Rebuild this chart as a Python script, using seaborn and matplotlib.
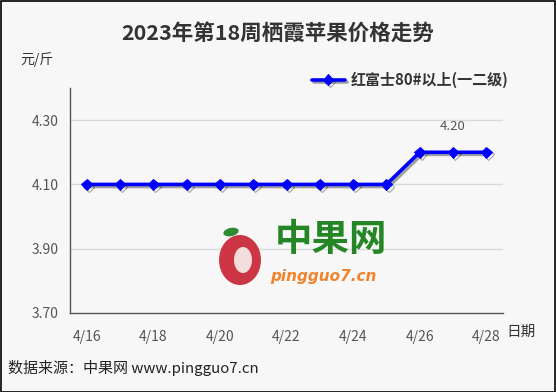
import matplotlib
matplotlib.use("Agg")
import matplotlib.pyplot as plt
import matplotlib.patheffects as pe
from matplotlib.patches import Rectangle, Ellipse
import seaborn as sns
import pandas as pd

dates = ["4/16", "4/17", "4/18", "4/19", "4/20", "4/21", "4/22",
         "4/23", "4/24", "4/25", "4/26", "4/27", "4/28"]
prices = [4.10, 4.10, 4.10, 4.10, 4.10, 4.10, 4.10,
          4.10, 4.10, 4.10, 4.20, 4.20, 4.20]
series_name = "红富士80#以上(一二级)"
y_ticks = [3.70, 3.90, 4.10, 4.30]
annot_index = 11
annot_text = "4.20"

sns.set_theme(style="white")
plt.rcParams['font.family'] = ['Noto Sans CJK SC', 'DejaVu Sans']

bg = "#f7f7f7"
fig = plt.figure(figsize=(5.56, 3.92), dpi=100, facecolor=bg)
ax = fig.add_axes([70/556, 1-313/392, (503-70)/556, (313-88)/392])
ax.set_facecolor(bg)

df = pd.DataFrame({"idx": list(range(len(dates))), "price": prices})
sns.lineplot(data=df, x="idx", y="price", ax=ax, color="#0000ff", linewidth=2.6,
             marker="D", markersize=5.5, markeredgecolor="#0000ff",
             label=series_name, legend=False,
             path_effects=[pe.SimpleLineShadow(offset=(1.5, -1.5), alpha=0.35, shadow_color="black"),
                           pe.Normal()])

ax.set_xlim(-0.5, len(dates) - 0.5)
ax.set_ylim(3.70, 4.40)
ax.set_yticks(y_ticks)
ax.set_yticklabels([f"{v:.2f}" for v in y_ticks], color="#555555", fontsize=10)
ax.set_xticks(list(range(0, len(dates), 2)))
ax.set_xticklabels(dates[::2], color="#555555", fontsize=10)
ax.set_xticks([i + 0.5 for i in range(len(dates) - 1)], minor=True)
ax.tick_params(axis="x", which="major", length=0, pad=12)
ax.tick_params(axis="x", which="minor", direction="in", length=5, color="#444444", width=1)
ax.tick_params(axis="y", direction="in", length=6, color="#444444", width=1, pad=8)
ax.set_xlabel("")
ax.set_ylabel("")
for gy in y_ticks[1:]:
    ax.axhline(gy, color="#d9d9d9", linewidth=1, zorder=0)
for s in ["top", "right"]:
    ax.spines[s].set_visible(False)
for s in ["left", "bottom"]:
    ax.spines[s].set_color("#555555")
    ax.spines[s].set_linewidth(1)

ax.annotate(annot_text, (annot_index, prices[annot_index]), xytext=(0, 14),
            textcoords="offset points", ha="center", va="bottom",
            color="#555555", fontsize=9.5)

# titles and texts
fig.text(0.5, 1-33/392, "2023年第18周栖霞苹果价格走势", ha="center", va="center",
         fontsize=15.5, fontweight="bold", color="#333333")
fig.text(20/556, 1-60/392, "元/斤", ha="left", va="center", fontsize=10, color="#333333")
fig.text(506/556, 1-332/392, "日期", ha="left", va="center", fontsize=10.5, color="#333333")
fig.text(8/556, 1-368/392, "数据来源：中果网 www.pingguo7.cn", ha="left", va="center",
         fontsize=10.8, color="#222222")

# legend
h, l = ax.get_legend_handles_labels()
leg = fig.legend(h, l, loc="center left", bbox_to_anchor=(298/556, 1-80/392),
                 frameon=False, fontsize=10.8, handlelength=2.2, handletextpad=0.4)
for t in leg.get_texts():
    t.set_color("#333333")
    t.set_fontweight("bold")

# watermark logo
fig.patches.append(Ellipse((240/556, 1-260/392), 42/556, 50/392, transform=fig.transFigure,
                           facecolor="#c8202f", edgecolor="none", zorder=0.5, alpha=0.9))
fig.patches.append(Ellipse((243/556, 1-260/392), 18/556, 26/392, transform=fig.transFigure,
                           facecolor="#f3dcdc", edgecolor="none", zorder=0.6))
fig.patches.append(Ellipse((231/556, 1-232/392), 16/556, 8/392, angle=25, transform=fig.transFigure,
                           facecolor="#2e8b2e", edgecolor="none", zorder=0.6))
fig.text(331/556, 1-240/392, "中果网", ha="center", va="center", fontsize=27,
         fontweight="bold", color="#0d7a0d", alpha=0.9)
fig.text(323/556, 1-277/392, "pingguo7.cn", ha="center", va="center", fontsize=11,
         fontweight="bold", style="italic", color="#f07818", family="DejaVu Sans", alpha=0.9)

# border
fig.patches.append(Rectangle((0.001, 0.001), 0.997, 0.997, transform=fig.transFigure,
                             fill=False, edgecolor="black", linewidth=1.2))

fig.savefig("out.png", dpi=100, facecolor=bg)
